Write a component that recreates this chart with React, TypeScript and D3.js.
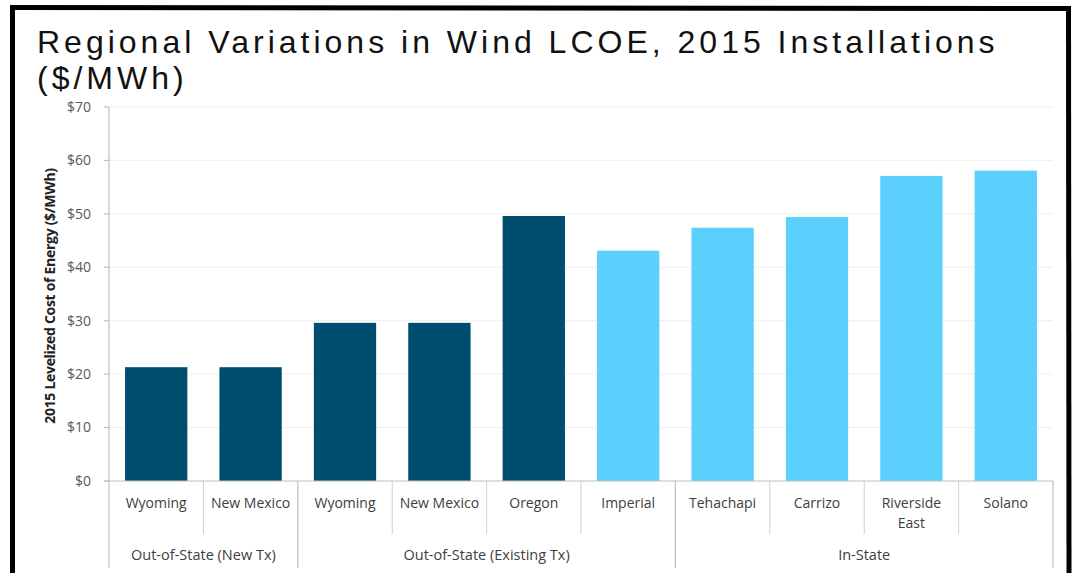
import React from 'react';
import * as d3 from 'd3';

const categories = ['Wyoming', 'New Mexico', 'Wyoming', 'New Mexico', 'Oregon', 'Imperial', 'Tehachapi', 'Carrizo', 'Riverside East', 'Solano'];
const values = [21.3, 21.3, 29.6, 29.6, 49.6, 43.1, 47.4, 49.4, 57.1, 58.1];
const outOfState = [true, true, true, true, true, false, false, false, false, false];
const groupNames = ['Out-of-State (New Tx)', 'Out-of-State (Existing Tx)', 'In-State'];
const groupSizes = [2, 4, 4];
const yTicks = [0, 10, 20, 30, 40, 50, 60, 70];

const App: React.FC = () => {
  const width = 1073;
  const height = 573;
  const left = 109;
  const right = 1053;
  const top = 107;
  const bottom = 481;

  const x = d3.scaleBand<number>()
    .domain(categories.map((_, i) => i))
    .range([left, right])
    .paddingInner(0.34)
    .paddingOuter(0.17);

  const y = d3.scaleLinear().domain([0, 70]).range([bottom, top]);
  const step = (right - left) / categories.length;

  // group boundaries (category index where each group starts)
  const starts = groupSizes.map((_, i) => d3.sum(groupSizes.slice(0, i)));
  const bounds = [...starts, categories.length];

  const dark = '#004e6d';
  const light = '#5bd0fc';
  const textCol = '#404040';
  const font = "'Open Sans', 'Liberation Sans', sans-serif";

  return (
    <svg width={width} height={height} style={{ position: 'absolute', left: 0, top: 0, background: '#fff' }}>
      {/* frame */}
      <line x1={12.5} y1={5} x2={12.5} y2={height} stroke="#000" strokeWidth={5} />
      <line x1={10} y1={7.5} x2={1071} y2={8.5} stroke="#000" strokeWidth={5} />
      <line x1={1068.5} y1={6} x2={1069} y2={height} stroke="#000" strokeWidth={5} />

      {/* title */}
      <text x={37} y={53} fontFamily="'Liberation Sans', Arial, sans-serif" fontSize={32} letterSpacing={4} fill="#111">
        Regional Variations in Wind LCOE, 2015 Installations
      </text>
      <text x={37} y={89} fontFamily="'Liberation Sans', Arial, sans-serif" fontSize={32} letterSpacing={4} fill="#111">
        ($/MWh)
      </text>

      {/* gridlines */}
      {yTicks.filter(t => t > 0).map(t => (
        <line key={`g-${t}`} x1={left} x2={right} y1={y(t)} y2={y(t)} stroke="#efefef" strokeWidth={1} />
      ))}

      {/* y axis */}
      <line x1={left} x2={left} y1={top} y2={bottom} stroke="#bfbfbf" strokeWidth={1.2} />
      {yTicks.map(t => (
        <g key={`t-${t}`}>
          <line x1={left - 5} x2={left} y1={y(t)} y2={y(t)} stroke="#bfbfbf" strokeWidth={1.2} />
          <text x={91} y={y(t)} dy="0.35em" textAnchor="end" fontFamily={font} fontSize={14} fill="#595959">
            {`$${t}`}
          </text>
        </g>
      ))}
      <text
        transform={`translate(50,${(top + bottom) / 2 + 2}) rotate(-90)`}
        textAnchor="middle"
        dy="0.35em"
        fontFamily={font}
        fontSize={14}
        letterSpacing={-0.3}
        fontWeight="bold"
        fill="#222"
      >
        2015 Levelized Cost of Energy ($/MWh)
      </text>

      {/* bars */}
      {values.map((v, i) => (
        <rect
          key={`b-${i}`}
          x={x(i)}
          y={y(v)}
          width={x.bandwidth()}
          height={bottom - y(v)}
          fill={outOfState[i] ? dark : light}
        />
      ))}

      {/* category axis */}
      <line x1={left - 5} x2={right} y1={bottom} y2={bottom} stroke="#bfbfbf" strokeWidth={1.2} />
      {categories.map((_, i) => {
        const xx = left + step * i;
        const isBound = bounds.includes(i);
        return isBound ? null : (
          <line key={`d-${i}`} x1={xx} x2={xx} y1={bottom} y2={534} stroke="#d0d0d0" strokeWidth={1} />
        );
      })}
      {bounds.map(b => {
        const xx = left + step * b;
        return <line key={`gb-${b}`} x1={xx} x2={xx} y1={bottom} y2={568} stroke="#bfbfbf" strokeWidth={1.2} />;
      })}
      {categories.map((c, i) => {
        const cx = (x(i) as number) + x.bandwidth() / 2;
        const words = c === 'Riverside East' ? ['Riverside', 'East'] : [c];
        return (
          <text key={`c-${i}`} x={cx} y={508} textAnchor="middle" fontFamily={font} fontSize={14} fill={textCol}>
            {words.map((w, j) => (
              <tspan key={j} x={cx} dy={j === 0 ? 0 : 20}>{w}</tspan>
            ))}
          </text>
        );
      })}
      {groupNames.map((g, i) => {
        const cx = left + step * (starts[i] + groupSizes[i] / 2);
        return (
          <text key={`gn-${i}`} x={cx} y={560} textAnchor="middle" fontFamily={font} fontSize={14.5} fill={textCol}>
            {g}
          </text>
        );
      })}
    </svg>
  );
};

export default App;
